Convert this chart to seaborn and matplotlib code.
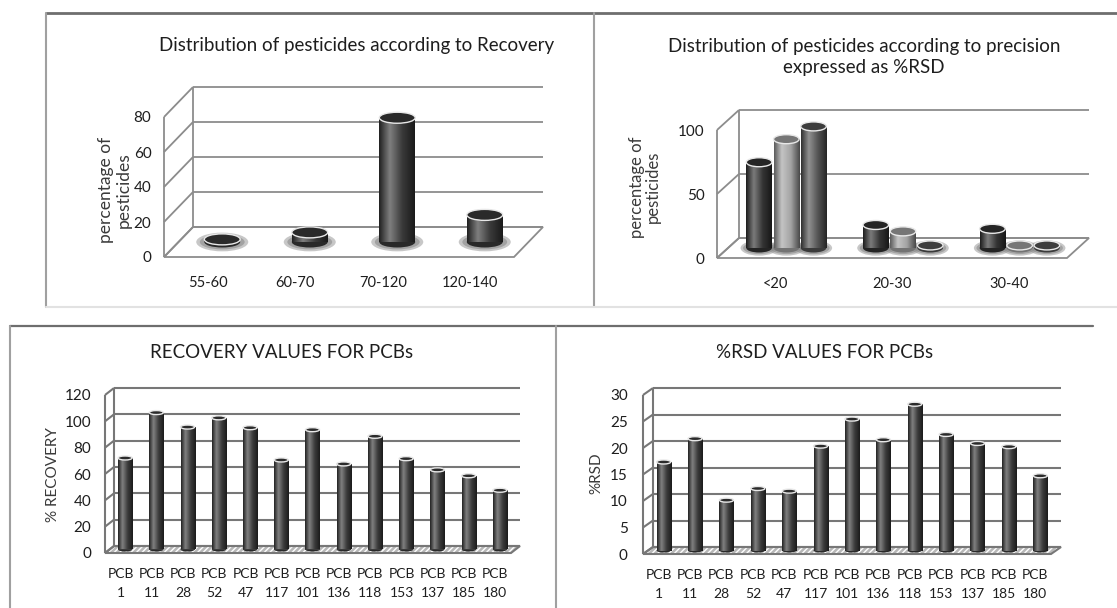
import numpy as np
import pandas as pd
import matplotlib
matplotlib.use("Agg")
import matplotlib.pyplot as plt
import seaborn as sns
from matplotlib.patches import Ellipse, Polygon
from matplotlib.lines import Line2D
from matplotlib.transforms import Affine2D
from matplotlib.colors import LinearSegmentedColormap, to_rgb

# ---------------- data ----------------
recovery_ranges = ["55-60", "60-70", "70-120", "120-140"]
recovery_share = [1.5, 5.5, 71, 15.5]
recovery_ticks = [0, 20, 40, 60, 80]

rsd_ranges = ["<20", "20-30", "30-40"]
rsd_series_names = ["Series 1", "Series 2", "Series 3"]
rsd_series1 = [67, 18, 15]
rsd_series2 = [85, 13, 2]
rsd_series3 = [95, 2, 2]
rsd_ticks = [0, 50, 100]

pcb_labels = ["PCB\n1", "PCB\n11", "PCB\n28", "PCB\n52", "PCB\n47", "PCB\n117",
              "PCB\n101", "PCB\n136", "PCB\n118", "PCB\n153", "PCB\n137",
              "PCB\n185", "PCB\n180"]
pcb_recovery = [69.5, 104, 93, 100, 92.5, 68, 91, 65, 86, 69, 60.5, 56, 45]
pcb_recovery_ticks = [0, 20, 40, 60, 80, 100, 120]
pcb_rsd = [16.7, 21.1, 9.5, 11.7, 11.2, 19.7, 24.8, 20.9, 27.6, 21.9, 20.2, 19.6, 14.1]
pcb_rsd_ticks = [0, 5, 10, 15, 20, 25, 30]

# ---------------- style ----------------
sns.set_theme(style="white")
plt.rcParams['font.family'] = ['Lato', 'DejaVu Sans']
TXT = '#1e1e1e'
LAB = '#3a3a3a'

W, H = 1117, 608
fig = plt.figure(figsize=(W / 100, H / 100), dpi=100)


def ax_at(l, t, r, b):
    return fig.add_axes([l / W, 1 - b / H, (r - l) / W, (b - t) / H])


def fline(x0, y0, x1, y1, color, lw):
    fig.add_artist(Line2D([x0 / W, x1 / W], [1 - y0 / H, 1 - y1 / H],
                          transform=fig.transFigure, color=color, lw=lw))


def cyl_cmap(c):
    r = np.array(to_rgb(c))
    light = r + (1 - r) * 0.35
    dark = r * 0.55
    return LinearSegmentedColormap.from_list(
        'cyl', [(0, dark), (0.3, light), (0.65, r), (1, dark * 0.8)])


GRAD = np.linspace(0, 1, 128).reshape(1, -1)


def dress(ax, n, ticks, ddx, ddy, colors, cap_px, grid_color, grid_lw,
          hatched, shadow):
    ax.set_xlim(-0.5, n - 0.5)
    ax.set_ylim(ticks[0], ticks[-1])
    bb = ax.get_window_extent()
    sx = n / bb.width
    sy = (ticks[-1] - ticks[0]) / bb.height
    DX, DY = ddx * sx, ddy * sy
    x0, x1 = -0.5, n - 0.5
    top = ticks[-1]
    corners = [(x0, 0), (x1, 0), (x1 + DX, DY), (x0 + DX, DY)]
    if hatched:
        ax.add_patch(Polygon(corners, closed=True, fc='#b8b8b8', ec='white',
                             hatch='//////', lw=0, clip_on=False, zorder=0.4))
    ax.add_patch(Polygon(corners, closed=True, fill=False, ec=grid_color,
                         lw=grid_lw, clip_on=False, zorder=0.6))
    lkw = dict(color=grid_color, lw=grid_lw, clip_on=False, zorder=0.5,
               solid_capstyle='butt')
    for t in ticks:
        ax.add_line(Line2D([x0 + DX, x1 + DX], [t + DY, t + DY], **lkw))
        ax.add_line(Line2D([x0, x0 + DX], [t, t + DY], **lkw))
    ax.add_line(Line2D([x0, x0], [0, top], **lkw))
    ax.add_line(Line2D([x0 + DX, x0 + DX], [DY, top + DY], **lkw))

    mid = Affine2D().translate(DX / 2, DY / 2) + ax.transData
    caph = cap_px * sy
    for cont, col in zip(ax.containers, colors):
        rgb = np.array(to_rgb(col))
        for bar in cont:
            x, w, h = bar.get_x(), bar.get_width(), bar.get_height()
            cx = x + w / 2
            bar.set_transform(mid)
            bar.set_clip_on(False)
            bar.set_zorder(2)
            bar.set_edgecolor('none')
            if shadow:
                ax.add_patch(Ellipse((cx, 0), w * 1.45, caph * 1.7, transform=mid,
                                     fc='#9a9a9a', ec='none', alpha=0.55,
                                     zorder=1.2, clip_on=False))
                ax.add_patch(Ellipse((cx, 0), w * 1.25, caph * 1.35, transform=mid,
                                     fc='#8a8a8a', ec='none', alpha=0.6,
                                     zorder=1.3, clip_on=False))
            ax.add_patch(Ellipse((cx, 0), w, caph, transform=mid, fc=rgb * 0.7,
                                 ec='none', zorder=1.9, clip_on=False))
            im = ax.imshow(GRAD, extent=(x, x + w, 0, h), transform=mid,
                           cmap=cyl_cmap(col), aspect='auto',
                           interpolation='bilinear', zorder=2.1)
            im.set_clip_path(bar)
            ax.add_patch(Ellipse((cx, h), w, caph, transform=mid, fc=rgb * 0.72,
                                 ec='#e8e8e8', lw=1.0, zorder=2.5, clip_on=False))
    ax.set_xlim(-0.5, n - 0.5)
    ax.set_ylim(ticks[0], top)
    ax.set_yticks(ticks)
    for s in ax.spines.values():
        s.set_visible(False)
    ax.patch.set_visible(False)
    ax.grid(False)
    ax.set_xlabel('')


# ---------------- panel 1: recovery distribution ----------------
ax1 = ax_at(164, 117, 514, 257)
c1 = '#3a3a3a'
sns.barplot(x=recovery_ranges, y=recovery_share, color=c1, width=0.41,
            saturation=1, ax=ax1)
dress(ax1, len(recovery_ranges), recovery_ticks, 29, 30, [c1], 11,
      '#8c8c8c', 1.3, False, True)
ax1.tick_params(axis='y', length=0, pad=9, labelsize=11, labelcolor=TXT)
ax1.tick_params(axis='x', length=0, pad=14, labelsize=10.5, labelcolor=TXT)
ax1.set_ylabel('percentage of\npesticides', fontsize=12.5, linespacing=1.15,
               color=LAB)
ax1.yaxis.set_label_coords(-0.092, 0.479)
ax1.set_title('Distribution of pesticides according to Recovery', x=0.549,
              y=1.514, va='center', fontsize=13.5, color=TXT, pad=0)

# ---------------- panel 2: precision distribution ----------------
ax2 = ax_at(717, 130, 1067, 258)
c2 = ['#343434', '#a4a4a4', '#555555']
rsd_df = pd.DataFrame({
    'range': rsd_ranges * 3,
    'share': rsd_series1 + rsd_series2 + rsd_series3,
    'series': np.repeat(rsd_series_names, len(rsd_ranges)),
})
sns.barplot(data=rsd_df, x='range', y='share', hue='series', palette=c2,
            width=0.7, gap=0.06, saturation=1, legend=False, ax=ax2)
dress(ax2, len(rsd_ranges), rsd_ticks, 22, 20, c2, 9,
      '#8c8c8c', 1.3, False, True)
ax2.tick_params(axis='y', length=0, pad=9, labelsize=11, labelcolor=TXT)
ax2.tick_params(axis='x', length=0, pad=14, labelsize=10.5, labelcolor=TXT)
ax2.set_ylabel('percentage of\npesticides', fontsize=12, linespacing=1.0,
               color=LAB)
ax2.yaxis.set_label_coords(-0.16, 0.555)
ax2.set_title('Distribution of pesticides according to precision\nexpressed as %RSD',
              x=0.42, y=1.57, va='center', fontsize=13.5, color=TXT, pad=0,
              linespacing=1.35)

# ---------------- panel 3: PCB recovery ----------------
ax3 = ax_at(105, 395, 511, 553)
c3 = '#3c3c3c'
sns.barplot(x=pcb_labels, y=pcb_recovery, color=c3, width=0.45, saturation=1,
            ax=ax3)
dress(ax3, len(pcb_labels), pcb_recovery_ticks, 9, 7, [c3], 4,
      '#777777', 1.5, True, False)
ax3.tick_params(axis='y', length=0, pad=10, labelsize=11, labelcolor=TXT)
ax3.tick_params(axis='x', length=0, pad=11, labelsize=10, labelcolor=TXT)
for lab in ax3.get_xticklabels():
    lab.set_linespacing(1.7)
ax3.set_ylabel('% RECOVERY', fontsize=11, color=LAB)
ax3.yaxis.set_label_coords(-0.111, 0.494)
ax3.set_title('RECOVERY VALUES FOR PCBs', x=0.436, y=1.272, va='center',
              fontsize=13.5, color=TXT, pad=0)

# ---------------- panel 4: PCB %RSD ----------------
ax4 = ax_at(643, 395, 1051, 554)
sns.barplot(x=pcb_labels, y=pcb_rsd, color=c3, width=0.45, saturation=1, ax=ax4)
dress(ax4, len(pcb_labels), pcb_rsd_ticks, 10, 7, [c3], 4,
      '#777777', 1.5, True, False)
ax4.tick_params(axis='y', length=0, pad=11, labelsize=11, labelcolor=TXT)
ax4.tick_params(axis='x', length=0, pad=11, labelsize=10, labelcolor=TXT)
for lab in ax4.get_xticklabels():
    lab.set_linespacing(1.7)
ax4.set_ylabel('%RSD', fontsize=11, color=LAB)
ax4.yaxis.set_label_coords(-0.096, 0.51)
ax4.set_title('%RSD VALUES FOR PCBs', x=0.444, y=1.27, va='center',
              fontsize=13.5, color=TXT, pad=0)

# ---------------- panel frames ----------------
fline(46, 13, 1117, 13, '#6e6e6e', 2.0)
fline(46, 13, 46, 307, '#a0a0a0', 1.5)
fline(594, 13, 594, 307, '#a0a0a0', 1.5)
fline(46, 307, 1117, 307, '#e2e2e2', 1.5)
fline(10, 326, 1093, 326, '#6e6e6e', 1.6)
fline(10, 326, 10, 608, '#a0a0a0', 1.5)
fline(556, 326, 556, 608, '#a0a0a0', 1.5)

fig.savefig('out.png', dpi=100)
